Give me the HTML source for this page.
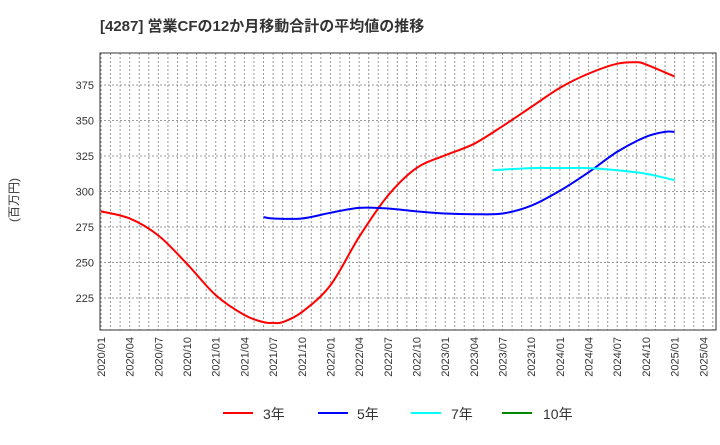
<!DOCTYPE html>
<html><head><meta charset="utf-8"><style>
body{margin:0;background:#fff;}
svg{font-family:"Liberation Sans","Noto Sans CJK JP",sans-serif;}
</style></head><body>
<svg id="c" width="720" height="440">
<text x="100" y="31" font-size="15" font-weight="bold" fill="#333">[4287]  営業CFの12か月移動合計の平均値の推移</text>
<text transform="translate(18,200) rotate(-90)" text-anchor="middle" font-size="12" fill="#333">(百万円)</text>
<g id="grid"></g><g id="series"></g><g id="axes"></g>
<g>
<line x1="223" y1="413" x2="253" y2="413" stroke="#f00" stroke-width="2"/><text x="263" y="419" font-size="14" fill="#333">3年</text>
<line x1="318" y1="413" x2="348" y2="413" stroke="#00f" stroke-width="2"/><text x="357" y="419" font-size="14" fill="#333">5年</text>
<line x1="411" y1="413" x2="441" y2="413" stroke="#0ff" stroke-width="2"/><text x="451" y="419" font-size="14" fill="#333">7年</text>
<line x1="502" y1="413" x2="532" y2="413" stroke="#080" stroke-width="2"/><text x="543" y="419" font-size="14" fill="#333">10年</text>
</g>
</svg>
<script>
const xLabels=["2020/01","2020/04","2020/07","2020/10","2021/01","2021/04","2021/07","2021/10","2022/01","2022/04","2022/07","2022/10","2023/01","2023/04","2023/07","2023/10","2024/01","2024/04","2024/07","2024/10","2025/01","2025/04"];
const yTicks=[225,250,275,300,325,350,375];
const red3M=[0,3,6,9,12,15,17,18,19,21,24,27,30,33,36,39,42,45,48,51,54,56,57,60];
const red3V=[286,281,269,249,227,213,208,207.5,208,215,234,268,297,316.5,325.5,333.5,346,359.5,373,383,390,391,389.5,381];
const blue5M=[17,18,21,24,27,30,33,36,39,42,45,48,51,54,57,59,60];
const blue5V=[282,281,281,285,288.5,288,286,284.5,284,284.5,290,300.5,313.5,328,338.5,342,342];
const cyan7M=[41,45,48,51,54,57,60];
const cyan7V=[315,316.5,316.5,316.5,315,312.5,308];
const L=100,R=716,T=53,B=330;
const X=m=>L+1+m*9.56;
const Y=v=>85+(375-v)*1.42;
const NS="http://www.w3.org/2000/svg";
function mk(t,a,p){const e=document.createElementNS(NS,t);for(const k in a)e.setAttribute(k,a[k]);p.appendChild(e);return e;}
const grid=document.getElementById('grid'),axes=document.getElementById('axes'),ser=document.getElementById('series');
for(let m=0;X(m)<R;m++){const l=mk('line',{x1:X(m),x2:X(m),y1:T,y2:B,stroke:'#999','stroke-width':1,'stroke-dasharray':'2,2'},grid);

}
yTicks.forEach(v=>{const l=mk('line',{x1:L,x2:R,y1:Y(v),y2:Y(v),stroke:'#999','stroke-width':1,'stroke-dasharray':'2,2'},grid);


const t=mk('text',{x:L-6,y:Y(v)+4,'text-anchor':'end','font-size':11,fill:'#333'},axes);t.textContent=v;

});
xLabels.forEach((s,i)=>{const x=X(i*3);const t=mk('text',{transform:`translate(${x+4},${B+7}) rotate(-90)`,'text-anchor':'end','font-size':11,fill:'#333'},axes);t.textContent=s;

});
const fr=mk('rect',{x:L,y:T,width:R-L,height:B-T,fill:'none',stroke:'#333','stroke-width':1},axes);


function path(ms,vs){const p=ms.map((m,i)=>[X(m),Y(vs[i])]);let d=`M${p[0][0]},${p[0][1]}`;
for(let i=0;i<p.length-1;i++){const p0=p[i-1]||p[i],p1=p[i],p2=p[i+1],p3=p[i+2]||p2;
d+=` C${p1[0]+(p2[0]-p0[0])/6},${p1[1]+(p2[1]-p0[1])/6} ${p2[0]-(p3[0]-p1[0])/6},${p2[1]-(p3[1]-p1[1])/6} ${p2[0]},${p2[1]}`;}return d;}
[[red3M,red3V,'#f00','series-3yr'],[blue5M,blue5V,'#00f','series-5yr'],[cyan7M,cyan7V,'#0ff','series-7yr']].forEach(s=>{
const e=mk('path',{d:path(s[0],s[1]),fill:'none',stroke:s[2],'stroke-width':2},ser);

});
</script>
</body></html>
